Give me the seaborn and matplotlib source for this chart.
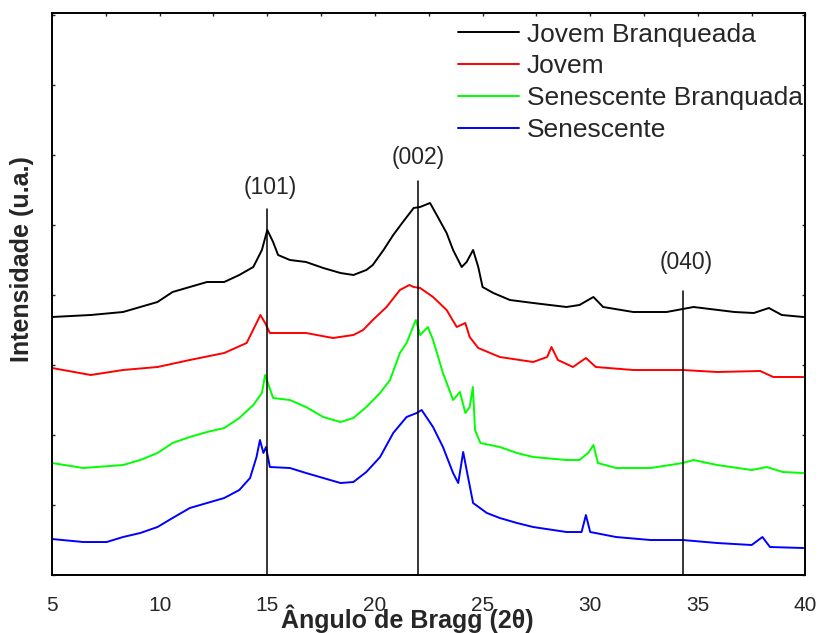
import matplotlib
matplotlib.use("Agg")
import pandas as pd
import seaborn as sns
import matplotlib.pyplot as plt
from matplotlib.ticker import MultipleLocator, NullFormatter

# curvas de DRX (intensidade deslocada, u.a.)
x_jovem_branq = [5.0, 6.8, 8.3, 9.1, 9.9, 10.6, 11.4, 12.2, 13.0, 13.7, 14.35, 14.75, 15.0,
                 15.27, 15.5, 16.05, 16.8, 17.6, 18.4, 19.0, 19.6, 19.9, 20.4, 20.85, 21.3,
                 21.8, 22.1, 22.56, 22.87, 23.33, 23.63, 24.03, 24.26, 24.56, 24.8, 25.0,
                 25.5, 26.27, 27.35, 28.9, 29.5, 30.15, 30.6, 32.0, 33.55, 34.8, 36.7, 37.6,
                 38.3, 38.9, 39.9]
y_jovem_branq = [258, 260, 263, 268, 273, 283, 288, 293, 293, 300, 308, 325, 345,
                 333, 320, 315, 313, 307, 302, 300, 305, 310, 325, 340, 353,
                 367, 368, 372, 360, 342, 325, 308, 313, 325, 308, 288,
                 282, 275, 272, 268, 270, 278, 268, 263, 263, 268, 263, 262,
                 267, 260, 258]

x_jovem = [5.0, 6.8, 8.3, 9.9, 11.4, 13.0, 14.04, 14.5, 14.68, 14.9, 15.12, 15.9, 16.8,
           18.05, 19.0, 19.45, 19.9, 20.54, 21.16, 21.6, 21.8, 22.1, 22.7, 23.33, 23.8,
           24.2, 24.4, 24.8, 25.8, 27.35, 28.0, 28.2, 28.5, 29.2, 29.8, 30.26, 32.0,
           34.3, 35.9, 37.9, 38.5, 39.9]
y_jovem = [207, 200, 205, 208, 215, 222, 232, 252, 260, 252, 242, 242, 242,
           237, 240, 245, 255, 268, 285, 290, 288, 287, 278, 265, 248,
           252, 238, 227, 218, 213, 218, 228, 215, 208, 217, 208, 205,
           205, 203, 204, 198, 198]

x_senes_branq = [5.0, 6.45, 8.3, 9.1, 9.9, 10.6, 11.4, 12.2, 13.0, 13.7, 14.35, 14.75, 14.9,
                 15.27, 16.05, 16.8, 17.6, 18.4, 19.0, 19.6, 20.24, 20.7, 21.16, 21.47,
                 21.9, 22.1, 22.46, 22.7, 23.16, 23.63, 23.95, 24.2, 24.4, 24.55, 24.65,
                 24.9, 25.8, 26.6, 27.35, 28.9, 29.5, 29.9, 30.15, 30.36, 31.2, 32.8,
                 34.3, 34.8, 35.9, 37.5, 38.2, 38.95, 39.9]
y_senes_branq = [112, 107, 110, 115, 122, 132, 138, 143, 147, 157, 170, 182, 200,
                 177, 175, 168, 158, 153, 157, 168, 182, 195, 222, 232,
                 255, 240, 248, 235, 202, 175, 183, 162, 168, 188, 145,
                 132, 128, 122, 118, 115, 115, 122, 130, 112, 107, 107,
                 112, 115, 110, 105, 108, 103, 102]

x_senes = [5.0, 6.45, 7.54, 8.3, 9.1, 9.9, 10.6, 11.4, 12.2, 13.0, 13.7, 14.2, 14.5, 14.66,
           14.82, 14.94, 15.12, 16.05, 16.8, 17.6, 18.4, 19.0, 19.6, 20.24, 20.85, 21.47,
           21.94, 22.17, 22.7, 23.16, 23.63, 23.87, 24.1, 24.26, 24.56, 25.2, 25.8,
           26.6, 27.35, 28.9, 29.6, 29.8, 30.0, 31.2, 32.8, 34.3, 35.9, 37.5, 38.0,
           38.35, 39.9]
y_senes = [36, 33, 33, 38, 42, 48, 57, 67, 72, 77, 85, 97, 118, 135,
           122, 128, 108, 107, 102, 97, 92, 93, 103, 118, 142, 158,
           162, 165, 148, 128, 102, 92, 123, 105, 72, 62, 57,
           52, 48, 43, 43, 60, 43, 38, 35, 35, 32, 30, 38,
           28, 27]

series_names = ["Jovem Branqueada", "Jovem", "Senescente Branquada", "Senescente"]
series_colors = ["#000000", "#FF0000", "#00FF00", "#0000FF"]

# planos cristalinos
peak_labels = ["(101)", "(002)", "(040)"]
peak_pos = [15.0, 22.0, 34.3]
peak_top = [366, 394, 284]
label_pos = [(15.16, 387), (22.0, 417), (34.48, 312)]

frames = []
for name, xs, ys in zip(series_names,
                        [x_jovem_branq, x_jovem, x_senes_branq, x_senes],
                        [y_jovem_branq, y_jovem, y_senes_branq, y_senes]):
    frames.append(pd.DataFrame({"angulo": xs, "intensidade": ys, "amostra": name}))
df = pd.concat(frames, ignore_index=True)

sns.set_style("white")
plt.rcParams["font.family"] = ["Liberation Sans", "DejaVu Sans"]

fig = plt.figure(figsize=(8.19, 6.33), dpi=100)
ax = fig.add_axes([0.0635, 0.0916, 0.92, 0.8879])

sns.lineplot(data=df, x="angulo", y="intensidade", hue="amostra",
             hue_order=series_names, palette=series_colors,
             estimator=None, sort=False, linewidth=1.4, ax=ax)

for pos, top in zip(peak_pos, peak_top):
    ax.plot([pos, pos], [0, top], color="black", linewidth=1.1)
for lab, (lx, ly) in zip(peak_labels, label_pos):
    ax.text(lx, ly, lab, ha="center", va="center", fontsize=16.5)

ax.set_xlim(5, 40)
ax.set_ylim(0, 562)

ax.xaxis.set_major_locator(MultipleLocator(5))
ax.xaxis.set_minor_locator(MultipleLocator(2.5))
ax.yaxis.set_major_locator(MultipleLocator(70))
ax.yaxis.set_major_formatter(NullFormatter())
ax.tick_params(axis="x", which="major", direction="out", length=6, width=1.1,
               labelsize=15, pad=9, top=False)
ax.tick_params(axis="x", which="minor", direction="out", length=3, width=1.1, top=False)
ax.tick_params(axis="y", which="major", direction="in", length=2.5, width=1.0,
               left=True, right=True)
for s in ax.spines.values():
    s.set_linewidth(1.4)
    s.set_color("black")

# ticks internos no topo
sec = ax.secondary_xaxis("top")
sec.xaxis.set_major_locator(MultipleLocator(2.5))
sec.tick_params(direction="in", length=2.5, width=1.0, labeltop=False)
sec.spines["top"].set_visible(False)

ax.set_xlabel("Ângulo de Bragg (2θ)", fontsize=18, fontweight="bold")
ax.xaxis.set_label_coords(0.471, -0.078)
ax.xaxis.label.set_verticalalignment("center")
ax.set_ylabel("Intensidade (u.a.)", fontsize=18, fontweight="bold")
ax.yaxis.set_label_coords(-0.040, 0.563)
ax.yaxis.label.set_verticalalignment("center")

ax.legend(loc="upper left", bbox_to_anchor=(0.539, 0.983), frameon=False,
          fontsize=19, handlelength=2.3, handletextpad=0.3, labelspacing=0.30,
          borderaxespad=0, borderpad=0)

fig.savefig("out.png", dpi=100)
